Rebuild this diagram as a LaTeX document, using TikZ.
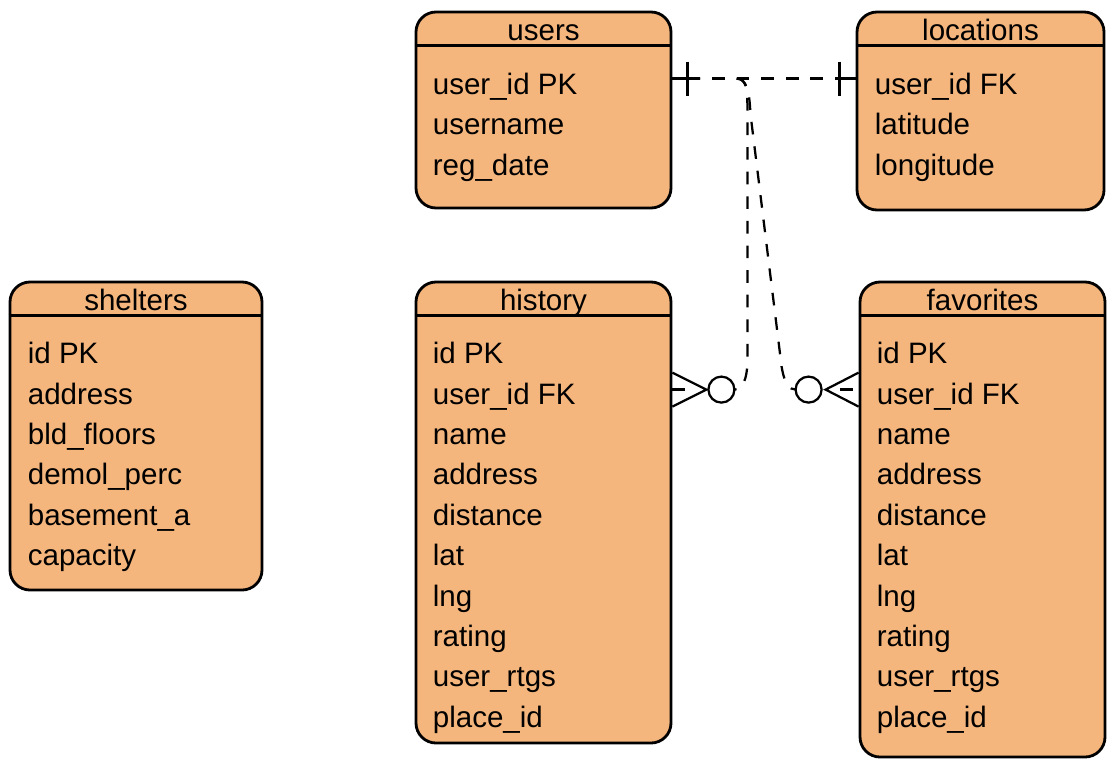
\documentclass[tikz,border=0pt]{standalone}
\usepackage{fontspec}
\setmainfont{Liberation Sans}
\usetikzlibrary{calc,fit}
\definecolor{tblfill}{RGB}{244,182,125}
\tikzset{
  tbl/.style={draw,line width=2pt,fill=tblfill,rounded corners=0.5cm,inner sep=0pt},
  tbl line/.style={line width=1.6pt},
  hdr/.style={anchor=base,inner sep=0pt,font=\fontsize{21}{25}\selectfont},
  fld/.style={anchor=base west,inner sep=0pt,font=\fontsize{21}{25}\selectfont},
  rel/.style={line width=1.6pt,dash pattern=on 9pt off 8.5pt},
  rel end/.style={line width=1.6pt},
}

\begin{document}
\begin{tikzpicture}[x=0.025cm,y=-0.025cm]
  \useasboundingbox (0,0) rectangle (1108,758);

  % tables
  \node[tbl,fit={(416,12) (671,208)}] (users) {};
  \node[tbl,fit={(857,12) (1104,210)}] (locations) {};
  \node[tbl,fit={(10,282) (262,590)}] (shelters) {};
  \node[tbl,fit={(416,282) (671,743)}] (history) {};
  \node[tbl,fit={(860,282) (1105,757)}] (favorites) {};

  \foreach \t in {users,locations,shelters,history,favorites}
    \draw[tbl line] ($(\t.north west)+(0,35)$) -- ($(\t.north east)+(0,35)$);

  \node[hdr] (users-t) at ($(users.north)+(0,30)$) {users};
  \node[hdr] (locations-t) at ($(locations.north)+(0,30)$) {locations};
  \node[hdr] (shelters-t) at ($(shelters.north)+(0,30)$) {shelters};
  \node[hdr] (history-t) at ($(history.north)+(0,30)$) {history};
  \node[hdr] (favorites-t) at ($(favorites.north)+(0,30)$) {favorites};

  \foreach \f [count=\i] in {user\_id PK,username,reg\_date}
    \node[fld] (users-\i) at ($(users.north west)+(18,{84+(\i-1)*40.4})$) {\f};
  \foreach \f [count=\i] in {user\_id FK,latitude,longitude}
    \node[fld] (locations-\i) at ($(locations.north west)+(19,{84+(\i-1)*40.4})$) {\f};
  \foreach \f [count=\i] in {id PK,address,bld\_floors,demol\_perc,basement\_a,capacity}
    \node[fld] (shelters-\i) at ($(shelters.north west)+(19,{83+(\i-1)*40.4})$) {\f};
  \foreach \f [count=\i] in {id PK,user\_id FK,name,address,distance,lat,lng,rating,user\_rtgs,place\_id}
    \node[fld] (history-\i) at ($(history.north west)+(18,{83+(\i-1)*40.4})$) {\f};
  \foreach \f [count=\i] in {id PK,user\_id FK,name,address,distance,lat,lng,rating,user\_rtgs,place\_id}
    \node[fld] (favorites-\i) at ($(favorites.north west)+(18,{83+(\i-1)*40.4})$) {\f};

  % relationship ends
  \coordinate (ua) at ($(users.north east)+(0,68)$);
  \coordinate (ub) at ($(ua)+(15,0)$);
  \coordinate (la) at ($(locations.north west)+(0,68)$);
  \coordinate (lb) at ($(la)+(-16,0)$);
  \coordinate (hc) at ($(history.north east)+(0,109)$);
  \coordinate (fc) at ($(favorites.north west)+(0,109)$);

  % users -- locations
  \draw[rel end] (ua) -- (ub) (la) -- (lb);
  \draw[rel end] ($(ub)+(0,-17)$) -- ($(ub)+(0,17)$);
  \draw[rel end] ($(lb)+(0,-17)$) -- ($(lb)+(0,17)$);
  \draw[rel] (ub) -- (lb);

  % users -- history
  \draw[rel] (ub) -- ($(ua)+(64,0)$) .. controls ($(ua)+(74,0)$) and ($(ua)+(75,10)$) .. ($(ua)+(75,30)$)
    -- ($(hc)+(75,-30)$) .. controls ($(hc)+(75,-10)$) and ($(hc)+(70,0)$) .. ($(hc)+(62,0)$);
  \draw[rel end] ($(hc)+(49,0)$) circle[radius=13];
  \draw[rel end] ($(hc)+(0,-17)$) -- ($(hc)+(34,0)$) -- ($(hc)+(0,17)$);
  \draw[rel end] (hc) -- ($(hc)+(13,0)$);

  % users -- favorites
  \draw[rel] (ub) -- ($(ua)+(64,0)$) .. controls ($(ua)+(74,0)$) and ($(ua)+(77,12)$) .. ($(ua)+(78,35)$)
    -- ($(fc)+(-77,-23)$) .. controls ($(fc)+(-74,-5)$) and ($(fc)+(-69,0)$) .. ($(fc)+(-63,0)$);
  \draw[rel end] ($(fc)+(-50,0)$) circle[radius=13];
  \draw[rel end] ($(fc)+(0,-17)$) -- ($(fc)+(-33,0)$) -- ($(fc)+(0,17)$);
  \draw[rel end] ($(fc)+(-6,0)$) -- ($(fc)+(-19,0)$);
\end{tikzpicture}
\end{document}
